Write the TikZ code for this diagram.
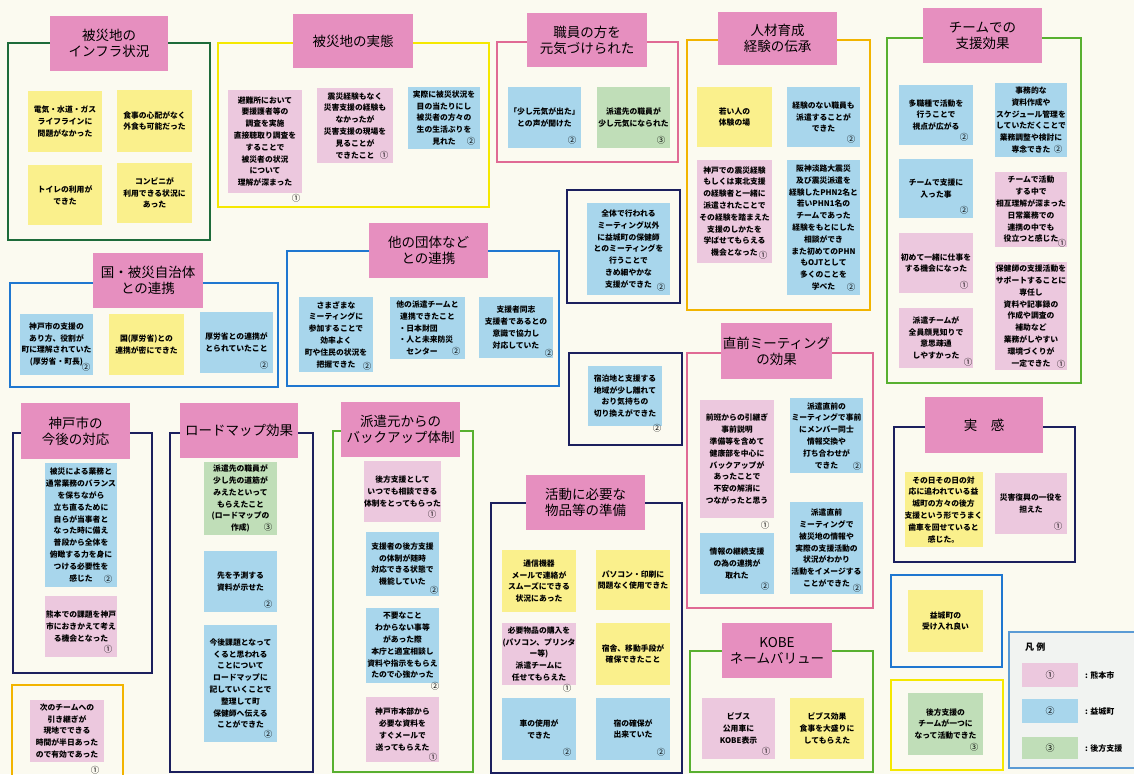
\documentclass[tikz,border=0pt]{standalone}
\usepackage{fontspec}
\setmainfont{Noto Sans CJK JP}
\usetikzlibrary{calc}

\definecolor{paper}{HTML}{FBFAF0}
\definecolor{titlepink}{HTML}{E68FBF}
\definecolor{cpink}{HTML}{ECC8DE}
\definecolor{cblue}{HTML}{A8D6EC}
\definecolor{cyellow}{HTML}{FAF08C}
\definecolor{cgreen}{HTML}{C0DEB8}
\definecolor{lndkgreen}{HTML}{1D6B3A}
\definecolor{lnyellow}{HTML}{F5E800}
\definecolor{lnpink}{HTML}{E06A95}
\definecolor{lnorange}{HTML}{F2B400}
\definecolor{lngreen}{HTML}{58B030}
\definecolor{lnblue}{HTML}{1F77D0}
\definecolor{lnnavy}{HTML}{1B1F5E}
\definecolor{lnlegend}{HTML}{5B9BD5}
\definecolor{legendbg}{HTML}{F1F3F1}

\tikzset{
  frame/.style={draw, line width=2.6pt, fill=none, inner sep=0pt},
  title/.style={fill=titlepink, inner sep=0pt, align=center,
    font=\fontsize{13.5}{16}\selectfont},
  note/.style={inner sep=0pt, align=center,
    font=\bfseries\fontsize{7.8}{11.8}\selectfont},
  numtag/.style={inner sep=0pt, font=\fontsize{8.5}{9}\selectfont},
  legendlabel/.style={anchor=west, inner sep=0pt, font=\bfseries\fontsize{8}{10}\selectfont},
}

% name, style, left, top, right, bottom, text
\newcommand{\card}[7]{%
  \node[#2, minimum width={#5-#3}, minimum height={#6-#4}] (#1)
    at ({(#3+#5)/2},{(#4+#6)/2}) {#7};}
% circled number in the lower right corner of a card
\newcommand{\cardnum}[2]{%
  \node[numtag] (#1-n) at ($(#1.south east)+(-9,-8)$) {#2};}
% circled number with a custom offset from the lower right corner
\newcommand{\cardnumat}[4]{%
  \node[numtag] (#1-n) at ($(#1.south east)+(#2,#3)$) {#4};}

\begin{document}
\begin{tikzpicture}[x=1pt,y=-1pt]
\clip (0,0) rectangle (1134,774);
\fill[paper] (0,0) rectangle (1134,774);

% ---------- group frames ----------
\card{f1}{frame, lndkgreen}{8}{43}{210}{240}{}
\card{f2}{frame, lnyellow}{218}{43}{489}{207}{}
\card{f3}{frame, lnpink}{497}{42}{678}{162}{}
\card{f4}{frame, lnnavy}{567}{190}{680}{303}{}
\card{f5}{frame, lnorange}{687}{40}{870}{310}{}
\card{f6}{frame, lngreen}{887}{38}{1081}{383}{}
\card{f7}{frame, lnblue}{10}{283}{278}{387}{}
\card{f8}{frame, lnblue}{287}{251}{559}{386}{}
\card{f9}{frame, lnnavy}{569}{353}{682}{445}{}
\card{f10}{frame, lnnavy}{13}{433}{152}{673}{}
\card{f11}{frame, lnorange}{12}{685}{123}{790}{}
\card{f12}{frame, lnnavy}{170}{433}{313}{772}{}
\card{f13}{frame, lngreen}{333}{431}{473}{772}{}
\card{f14}{frame, lnnavy}{491}{503}{682}{773}{}
\card{f15}{frame, lnpink}{687}{353}{873}{608}{}
\card{f16}{frame, lngreen}{690}{651}{873}{772}{}
\card{f17}{frame, lnnavy}{894}{427}{1075}{562}{}
\card{f18}{frame, lnblue}{891}{575}{1002}{667}{}
\card{f19}{frame, lnyellow}{891}{680}{1003}{770}{}

% ---------- titles ----------
\card{t1}{title}{50}{16}{168}{71}{被災地の\\インフラ状況}
\card{t2}{title}{293}{14}{413}{68}{被災地の実態}
\card{t3}{title}{527}{13}{647}{67}{職員の方を\\元気づけられた}
\card{t5}{title}{718}{12}{837}{65}{人材育成\\経験の伝承}
\card{t6}{title}{923}{8}{1042}{63}{チームでの\\支援効果}
\card{t7}{title}{93}{253}{203}{308}{国・被災自治体\\との連携}
\card{t8}{title}{369}{223}{488}{278}{他の団体など\\との連携}
\card{t10}{title}{21}{403}{130}{459}{神戸市の\\今後の対応}
\card{t12}{title}{180}{403}{298}{458}{ロードマップ効果}
\card{t13}{title}{341}{402}{460}{457}{派遣元からの\\バックアップ体制}
\card{t14}{title}{526}{475}{645}{530}{活動に必要な\\物品等の準備}
\card{t15}{title}{721}{323}{832}{379}{直前ミーティング\\の効果}
\card{t16}{title}{722}{623}{832}{678}{KOBE\\ネームバリュー}
\card{t17}{title}{925}{397}{1043}{453}{実　感}

% ---------- infrastructure ----------
\card{n1a}{note, fill=cyellow}{28}{91}{102}{152}{電気・水道・ガス\\ライフラインに\\問題がなかった}
\card{n1b}{note, fill=cyellow}{117}{90}{192}{152}{食事の心配がなく\\外食も可能だった}
\card{n1c}{note, fill=cyellow}{28}{165}{102}{225}{トイレの利用が\\できた}
\card{n1d}{note, fill=cyellow}{117}{163}{192}{223}{コンビニが\\利用できる状況に\\あった}

% ---------- actual situation ----------
\card{n2a}{note, fill=cpink}{228}{90}{302}{193}{避難所において\\要援護者等の\\調査を実施\\直接聴取り調査を\\することで\\被災者の状況\\について\\理解が深まった}
\cardnumat{n2a}{-6}{5}{①}
\card{n2b}{note, fill=cpink}{317}{88}{393}{163}{震災経験もなく\\災害支援の経験も\\なかったが\\災害支援の現場を\\見ることが\\できたこと}
\cardnum{n2b}{①}
\card{n2c}{note, fill=cblue}{408}{87}{480}{149}{実際に被災状況を\\目の当たりにし\\被災者の方々の\\生の生活ぶりを\\見れた}
\cardnum{n2c}{②}

% ---------- staff encouraged ----------
\card{n3a}{note, fill=cblue}{508}{87}{581}{148}{「少し元気が出た」\\との声が聞けた}
\cardnum{n3a}{②}
\card{n3b}{note, fill=cgreen}{597}{87}{670}{148}{派遣先の職員が\\少し元気になられた}
\cardnum{n3b}{③}

\card{n4}{note, fill=cblue}{587}{203}{670}{295}{全体で行われる\\ミーティング以外\\に益城町の保健師\\とのミーティングを\\行うことで\\きめ細やかな\\支援ができた}
\cardnum{n4}{②}

% ---------- human resources ----------
\card{n5a}{note, fill=cyellow}{697}{87}{772}{147}{若い人の\\体験の場}
\card{n5b}{note, fill=cblue}{787}{87}{860}{147}{経験のない職員も\\派遣することが\\できた}
\cardnum{n5b}{②}
\card{n5c}{note, fill=cpink}{697}{160}{772}{263}{神戸での震災経験\\もしくは東北支援\\の経験者と一緒に\\派遣されたことで\\その経験を踏まえた\\支援のしかたを\\学ばせてもらえる\\機会となった}
\cardnum{n5c}{①}
\card{n5d}{note, fill=cblue}{787}{160}{860}{295}{阪神淡路大震災\\及び震災派遣を\\経験したPHN2名と\\若いPHN1名の\\チームであった\\経験をもとにした\\相談ができ\\また初めてのPHN\\もOJTとして\\多くのことを\\学べた}
\cardnum{n5d}{②}

% ---------- team effects ----------
\card{n6a}{note, fill=cblue}{899}{85}{973}{145}{多職種で活動を\\行うことで\\視点が広がる}
\cardnum{n6a}{②}
\card{n6b}{note, fill=cblue}{995}{83}{1067}{157}{事務的な\\資料作成や\\スケジュール管理を\\していただくことで\\業務調整や検討に\\専念できた}
\cardnum{n6b}{②}
\card{n6c}{note, fill=cblue}{899}{159}{973}{218}{チームで支援に\\入った事}
\cardnum{n6c}{②}
\card{n6d}{note, fill=cpink}{995}{172}{1067}{247}{チームで活動\\する中で\\相互理解が深まった\\日常業務での\\連携の中でも\\役立つと感じた}
\cardnumat{n6d}{-5}{-4}{①}
\card{n6e}{note, fill=cpink}{899}{233}{973}{293}{初めて一緒に仕事を\\する機会になった}
\cardnum{n6e}{①}
\card{n6f}{note, fill=cpink}{899}{308}{973}{368}{派遣チームが\\全員顔見知りで\\意思疎通\\しやすかった}
\cardnumat{n6f}{-5}{-6}{①}
\card{n6g}{note, fill=cpink}{995}{262}{1067}{370}{保健師の支援活動を\\サポートすることに\\専任し\\資料や記事録の\\作成や調査の\\補助など\\業務がしやすい\\環境づくりが\\一定できた}
\cardnumat{n6g}{-6}{-6}{①}

% ---------- national / local government ----------
\card{n7a}{note, fill=cblue}{20}{314}{93}{375}{神戸市の支援の\\あり方、役割が\\町に理解されていた\\(厚労省・町長)\hspace{1em}}
\cardnumat{n7a}{-7}{-8}{②}
\card{n7b}{note, fill=cyellow}{109}{314}{184}{375}{国(厚労省)との\\連携が密にできた}
\card{n7c}{note, fill=cblue}{200}{312}{273}{373}{厚労省との連携が\\とられていたこと}
\cardnum{n7c}{②}

% ---------- other organisations ----------
\card{n8a}{note, fill=cblue}{299}{297}{373}{372}{さまざまな\\ミーティングに\\参加することで\\効率よく\\町や住民の状況を\\把握できた}
\cardnumat{n8a}{-6}{-6}{②}
\card{n8b}{note, fill=cblue}{390}{297}{465}{359}{他の派遣チームと\\連携できたこと\\\makebox[7.4em][l]{・日本財団}\\\makebox[7.4em][l]{・人と未来防災}\\\makebox[7.4em][l]{\hspace{1em}センター}}
\cardnum{n8b}{②}
\card{n8c}{note, fill=cblue}{479}{297}{553}{358}{支援者同志\\支援者であるとの\\意識で協力し\\対応していた}
\cardnumat{n8c}{-4}{-5}{②}

\card{n9}{note, fill=cblue}{588}{366}{662}{426}{宿泊地と支援する\\地域が少し離れて\\おり気持ちの\\切り換えができた}
\cardnumat{n9}{-5}{2}{②}

% ---------- Kobe city ----------
\card{n10a}{note, fill=cblue}{45}{463}{117}{587}{被災による業務と\\通常業務のバランス\\を保ちながら\\立ち直るために\\自らが当事者と\\なった時に備え\\普段から全体を\\俯瞰する力を身に\\つける必要性を\\感じた}
\cardnum{n10a}{②}
\card{n10b}{note, fill=cpink}{45}{596}{117}{657}{熊本での課題を神戸\\市におきかえて考え\\る機会となった}
\cardnum{n10b}{①}

\card{n11}{note, fill=cpink}{30}{700}{104}{762}{次のチームへの\\引き継ぎが\\現地でできる\\時間が半日あった\\ので有効であった}
\cardnumat{n11}{-9}{8}{①}

% ---------- road map ----------
\card{n12a}{note, fill=cgreen}{204}{462}{277}{535}{派遣先の職員が\\少し先の道筋が\\みえたといって\\もらえたこと\\(ロードマップの\\作成)}
\cardnum{n12a}{③}
\card{n12b}{note, fill=cblue}{204}{551}{277}{612}{先を予測する\\資料が示せた}
\cardnum{n12b}{②}
\card{n12c}{note, fill=cblue}{204}{625}{277}{742}{今後課題となって\\くると思われる\\ことについて\\ロードマップに\\記していくことで\\整理して町\\保健師へ伝える\\ことができた}
\cardnum{n12c}{②}

% ---------- backup ----------
\card{n13a}{note, fill=cpink}{366}{461}{439}{522}{後方支援として\\いつでも相談できる\\体制をとってもらった}
\cardnum{n13a}{①}
\card{n13b}{note, fill=cblue}{366}{532}{439}{596}{支援者の後方支援\\の体制が随時\\対応できる状態で\\機能していた}
\cardnumat{n13b}{-5}{-6}{②}
\card{n13c}{note, fill=cblue}{366}{608}{439}{683}{不要なこと\\わからない事等\\があった際\\本庁と適宜相談し\\資料や指示をもらえ\\たので心強かった}
\cardnumat{n13c}{-4}{3}{②}
\card{n13d}{note, fill=cpink}{366}{697}{439}{762}{神戸市本部から\\必要な資料を\\すぐメールで\\送ってもらえた}
\cardnumat{n13d}{-6}{-5}{①}

% ---------- supplies ----------
\card{n14a}{note, fill=cyellow}{502}{550}{576}{612}{通信機器\\メールで連絡が\\スムーズにできる\\状況にあった}
\card{n14b}{note, fill=cyellow}{596}{550}{670}{610}{パソコン・印刷に\\問題なく使用できた}
\card{n14c}{note, fill=cpink}{502}{623}{576}{685}{必要物品の購入を\\(パソコン、プリンタ\\ー等)\\派遣チームに\\任せてもらえた}
\cardnumat{n14c}{-9}{3}{①}
\card{n14d}{note, fill=cyellow}{596}{623}{670}{685}{宿舎、移動手段が\\確保できたこと}
\card{n14e}{note, fill=cblue}{502}{698}{576}{760}{車の使用が\\できた}
\cardnum{n14e}{②}
\card{n14f}{note, fill=cblue}{596}{698}{670}{760}{宿の確保が\\出来ていた}
\cardnum{n14f}{②}

% ---------- pre-departure meeting ----------
\card{n15a}{note, fill=cpink}{700}{400}{774}{518}{前班からの引継ぎ\\事前説明\\準備等を含めて\\健康部を中心に\\バックアップが\\あったことで\\不安の解消に\\つながったと思う}
\cardnumat{n15a}{-9}{7}{①}
\card{n15b}{note, fill=cblue}{790}{398}{863}{473}{派遣直前の\\ミーティングで事前\\にメンバー同士\\情報交換や\\打ち合わせが\\できた}
\cardnumat{n15b}{-6}{-7}{②}
\card{n15c}{note, fill=cblue}{700}{533}{774}{594}{情報の継続支援\\の為の連携が\\取れた}
\cardnum{n15c}{②}
\card{n15d}{note, fill=cblue}{790}{502}{863}{594}{派遣直前\\ミーティングで\\被災地の情報や\\実際の支援活動の\\状況がわかり\\活動をイメージする\\ことができた}
\cardnumat{n15d}{-6}{-6}{②}

% ---------- KOBE name value ----------
\card{n16a}{note, fill=cpink}{702}{698}{775}{759}{ビブス\\公用車に\\KOBE表示}
\cardnum{n16a}{①}
\card{n16b}{note, fill=cyellow}{790}{698}{864}{759}{ビブス効果\\食事を大盛りに\\してもらえた}

% ---------- real feeling ----------
\card{n17a}{note, fill=cyellow}{905}{472}{982}{547}{その日その日の対\\応に追われている益\\城町の方々の後方\\支援という形でうまく\\歯車を回せていると\\感じた。}
\card{n17b}{note, fill=cpink}{995}{473}{1067}{534}{災害復興の一役を\\担えた}
\cardnum{n17b}{①}

\card{n18}{note, fill=cyellow}{908}{590}{983}{652}{益城町の\\受け入れ良い}
\card{n19}{note, fill=cgreen}{908}{693}{983}{755}{後方支援の\\チームが一つに\\なって活動できた}
\cardnum{n19}{③}

% ---------- legend ----------
\card{lg}{draw=lnlegend, line width=1.2pt, fill=legendbg}{1009}{632}{1140}{768}{}
\node[anchor=west, inner sep=0pt, font=\bfseries\fontsize{9}{10}\selectfont] (lgt) at (1025,647) {凡 例};
\card{lg1}{fill=cpink, inner sep=0pt, font=\fontsize{9}{10}\selectfont}{1022}{663}{1078}{687}{①}
\card{lg2}{fill=cblue, inner sep=0pt, font=\fontsize{9}{10}\selectfont}{1022}{699}{1078}{723}{②}
\card{lg3}{fill=cgreen, inner sep=0pt, font=\fontsize{9}{10}\selectfont}{1022}{737}{1078}{759}{③}
\node[legendlabel] (lg1t) at (1085,675) {: 熊本市};
\node[legendlabel] (lg2t) at (1085,711) {: 益城町};
\node[legendlabel] (lg3t) at (1085,748) {: 後方支援};
\end{tikzpicture}
\end{document}
